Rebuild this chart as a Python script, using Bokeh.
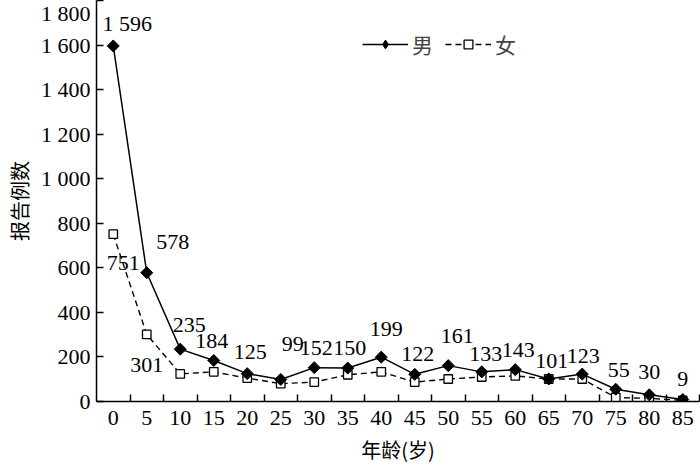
import math
from bokeh.plotting import figure
from bokeh.models import (ColumnDataSource, FixedTicker, Legend, LegendItem)
from bokeh.core.properties import value
from bokeh.embed import file_html
from bokeh.resources import INLINE

# ---- data ----
ages = [0, 5, 10, 15, 20, 25, 30, 35, 40, 45, 50, 55, 60, 65, 70, 75, 80, 85]
male = [1596, 578, 235, 184, 125, 99, 152, 150, 199, 122, 161, 133, 143, 101, 123, 55, 30, 9]
female = [751, 301, 124, 133, 105, 80, 87, 120, 133, 87, 101, 110, 115, 101, 101, 18, 14, 5]
male_labels = ["1 596", "578", "235", "184", "125", "99", "152", "150", "199", "122",
               "161", "133", "143", "101", "123", "55", "30", "9"]
female_label_idx = [0, 1]
y_ticks = [0, 200, 400, 600, 800, 1000, 1200, 1400, 1600, 1800]
y_tick_labels = ["0", "200", "400", "600", "800", "1 000", "1 200", "1 400", "1 600", "1 800"]
x_title = "年龄(岁)"
y_title = "报告例数"

# ---- label nudges (pixels) ----
male_dx = [14, 26, 9, -2, 3, 12, 2, 2, 5, 3, 9, 4, 3, 3, 1, 3, 0, 0]
male_dy = [-22, -31, -24, -20, -22, -35, -20, -20, -28, -20, -30, -18, -20, -18, -18, -19, -23, -20]
female_dx = [10, 0]
female_dy = [29, 31]

SERIF = "Liberation Serif"
CJK = "Noto Sans CJK SC"

p = figure(width=700, height=466, output_backend="svg", toolbar_location=None,
           x_range=(-2.5, 87.5), y_range=(0, 1800),
           min_border_left=96, min_border_right=1, min_border_top=0, min_border_bottom=50)
p.outline_line_color = None
p.grid.grid_line_color = None
p.background_fill_color = "white"

# axes
xa = p.xaxis[0]
xa.ticker = FixedTicker(ticks=ages, minor_ticks=[a + 2.5 for a in ages])
xa.major_tick_line_color = None
xa.minor_tick_in = 7
xa.minor_tick_out = 0
xa.minor_tick_line_color = "black"
xa.minor_tick_line_width = 1.5
xa.axis_line_width = 1.5
xa.axis_line_color = "black"
xa.major_label_text_font = SERIF
xa.major_label_text_font_size = "22px"
xa.major_label_text_color = "black"
xa.major_label_standoff = 3
xa.axis_label = x_title
xa.axis_label_text_font = CJK
xa.axis_label_text_font_size = "20px"
xa.axis_label_text_font_style = "normal"
xa.axis_label_text_color = "black"
xa.axis_label_standoff = 7

ya = p.yaxis[0]
ya.ticker = FixedTicker(ticks=y_ticks, minor_ticks=[])
ya.major_label_overrides = {t: l for t, l in zip(y_ticks, y_tick_labels)}
ya.major_tick_in = 7
ya.major_tick_out = 0
ya.major_tick_line_width = 1.5
ya.minor_tick_line_color = None
ya.axis_line_width = 1.5
ya.axis_line_color = "black"
ya.major_label_text_font = SERIF
ya.major_label_text_font_size = "22px"
ya.major_label_text_color = "black"
ya.major_label_standoff = 6
ya.axis_label = y_title
ya.axis_label_text_font = CJK
ya.axis_label_text_font_size = "20px"
ya.axis_label_text_font_style = "normal"
ya.axis_label_text_color = "black"
ya.axis_label_standoff = 4

src = ColumnDataSource(dict(age=ages, male=male, female=female, mlab=male_labels,
                            mdx=male_dx, mdy=male_dy))

f_line = p.line("age", "female", source=src, line_color="black", line_width=1.4, line_dash="6 4")
f_mark = p.scatter("age", "female", source=src, marker="square", size=8.5,
                   fill_color="white", line_color="black", line_width=1.3)
m_line = p.line("age", "male", source=src, line_color="black", line_width=1.5)
m_mark = p.scatter("age", "male", source=src, marker="square", size=8.5, angle=math.pi / 4,
                   fill_color="black", line_color="black")
# legend-only glyph (hidden renderer, shown only in the legend)
m_leg = p.scatter("age", "male", source=src, marker="diamond", size=13,
                  fill_color="black", line_color="black", visible=False)

p.text("age", "male", text="mlab", source=src, x_offset="mdx", y_offset="mdy",
       text_font=value(SERIF), text_font_size="22px", text_color="black",
       text_align="center", text_baseline="middle")

fsrc = ColumnDataSource(dict(age=[ages[i] for i in female_label_idx],
                             female=[female[i] for i in female_label_idx],
                             lab=[str(female[i]) for i in female_label_idx],
                             dx=female_dx, dy=female_dy))
p.text("age", "female", text="lab", source=fsrc, x_offset="dx", y_offset="dy",
       text_font=value(SERIF), text_font_size="22px", text_color="black",
       text_align="center", text_baseline="middle")

legend = Legend(items=[LegendItem(label="男", renderers=[m_line, m_leg]),
                       LegendItem(label="女", renderers=[f_line, f_mark])],
                orientation="horizontal", location=(266, 342))
legend.glyph_width = 46
legend.glyph_height = 22
legend.label_text_font = CJK
legend.label_text_font_size = "21px"
legend.label_standoff = 4
legend.spacing = 12
legend.padding = 0
legend.margin = 0
legend.border_line_color = None
legend.background_fill_alpha = 0
p.add_layout(legend, "center")

open("out.html", "w").write(file_html(p, INLINE))
